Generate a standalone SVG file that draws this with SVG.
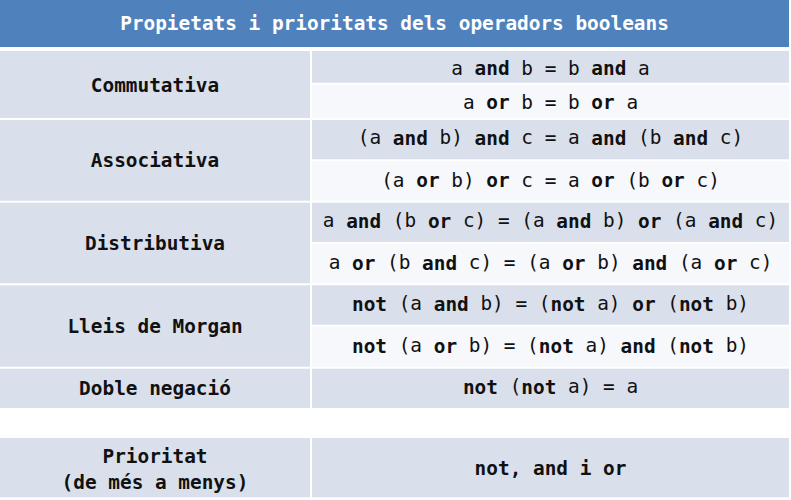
<svg xmlns="http://www.w3.org/2000/svg" width="791" height="500" viewBox="0 0 791 500">
<style>
text{font-family:"DejaVu Sans Mono","Liberation Mono",monospace;font-size:19.4px;fill:#111;text-anchor:middle;dominant-baseline:central}
.t{fill:#fff;font-weight:bold}
.l{font-weight:bold}
.b{font-weight:bold}
.h{fill:#4F81BD}
.d{fill:#D9E0EC}
.w{fill:#F6F8FB}
</style>
<rect x="0" y="0" width="791" height="500" fill="#fff"/>
<g id="header">
<rect class="h" x="0" y="0" width="789" height="47"/>
<text class="t" x="394.5" y="23">Propietats i prioritats dels operadors booleans</text>
</g>
<g id="commutativa">
<rect class="d" x="0" y="51" width="310" height="67"/>
<text class="l" x="155" y="85">Commutativa</text>
<rect class="d" x="312" y="51" width="477" height="31.7"/>
<text x="550.5" y="68">a <tspan class="b">and</tspan> b = b <tspan class="b">and</tspan> a</text>
<rect class="w" x="312" y="84.7" width="477" height="33.3"/>
<text x="550.5" y="102">a <tspan class="b">or</tspan> b = b <tspan class="b">or</tspan> a</text>
</g>
<g id="associativa">
<rect class="d" x="0" y="120" width="310" height="80.7"/>
<text class="l" x="155" y="160">Associativa</text>
<rect class="d" x="312" y="120" width="477" height="39.3"/>
<text x="550.5" y="137.5">(a <tspan class="b">and</tspan> b) <tspan class="b">and</tspan> c = a <tspan class="b">and</tspan> (b <tspan class="b">and</tspan> c)</text>
<rect class="w" x="312" y="161" width="477" height="39.7"/>
<text x="550.5" y="180">(a <tspan class="b">or</tspan> b) <tspan class="b">or</tspan> c = a <tspan class="b">or</tspan> (b <tspan class="b">or</tspan> c)</text>
</g>
<g id="distributiva">
<rect class="d" x="0" y="202.7" width="310" height="80.6"/>
<text class="l" x="155" y="243">Distributiva</text>
<rect class="d" x="312" y="202.7" width="477" height="39.3"/>
<text x="550.5" y="220.5">a <tspan class="b">and</tspan> (b <tspan class="b">or</tspan> c) = (a <tspan class="b">and</tspan> b) <tspan class="b">or</tspan> (a <tspan class="b">and</tspan> c)</text>
<rect class="w" x="312" y="244" width="477" height="39.3"/>
<text x="550.5" y="262.5">a <tspan class="b">or</tspan> (b <tspan class="b">and</tspan> c) = (a <tspan class="b">or</tspan> b) <tspan class="b">and</tspan> (a <tspan class="b">or</tspan> c)</text>
</g>
<g id="morgan">
<rect class="d" x="0" y="285.3" width="310" height="81.4"/>
<text class="l" x="155" y="326">Lleis de Morgan</text>
<rect class="d" x="312" y="285.3" width="477" height="39.4"/>
<text x="550.5" y="303.5"><tspan class="b">not</tspan> (a <tspan class="b">and</tspan> b) = (<tspan class="b">not</tspan> a) <tspan class="b">or</tspan> (<tspan class="b">not</tspan> b)</text>
<rect class="w" x="312" y="326.5" width="477" height="40.2"/>
<text x="550.5" y="345.5"><tspan class="b">not</tspan> (a <tspan class="b">or</tspan> b) = (<tspan class="b">not</tspan> a) <tspan class="b">and</tspan> (<tspan class="b">not</tspan> b)</text>
</g>
<g id="doble">
<rect class="d" x="0" y="368.7" width="310" height="39.3"/>
<text class="l" x="155" y="388">Doble negació</text>
<rect class="d" x="312" y="368.7" width="477" height="39.3"/>
<text x="550.5" y="386.5"><tspan class="b">not</tspan> (<tspan class="b">not</tspan> a) = a</text>
</g>
<g id="prioritat">
<rect class="d" x="0" y="438" width="310" height="59.3"/>
<text class="l" x="155" y="456">Prioritat</text>
<text class="l" x="155" y="482">(de més a menys)</text>
<rect class="d" x="312" y="438" width="477" height="59.3"/>
<text class="l" x="550.5" y="468">not, and i or</text>
</g>
</svg>
